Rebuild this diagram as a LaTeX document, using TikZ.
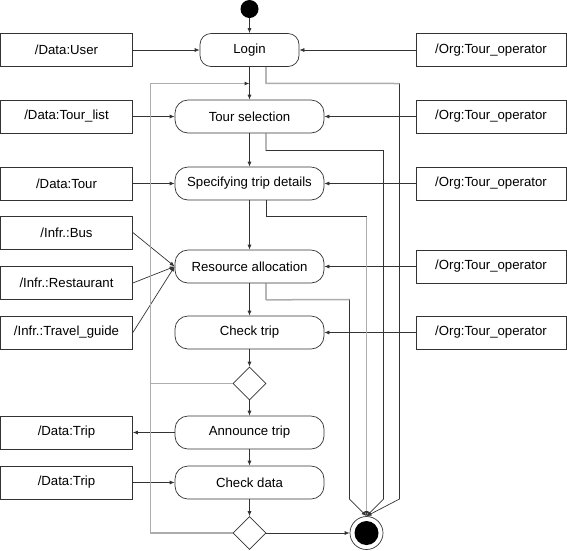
\documentclass[tikz,border=0pt]{standalone}
\usepackage{fontspec}
\setmainfont{Liberation Sans}
\usetikzlibrary{shapes.geometric}
\usetikzlibrary{arrows.meta}
\definecolor{darkline}{rgb}{0.2,0.2,0.2}
\definecolor{loopgray}{rgb}{0.68,0.68,0.68}

\begin{document}
\begin{tikzpicture}[x=1pt, y=-1pt, line width=0.7pt,
  font=\fontsize{13.2}{15}\selectfont,
  objbox/.style={draw=darkline, rectangle, minimum height=33pt, inner sep=0pt},
  leftobj/.style={objbox, minimum width=132pt},
  rightobj/.style={objbox, minimum width=150pt},
  action/.style={draw=darkline, rectangle, rounded corners=13pt, minimum width=149pt, minimum height=33pt, inner sep=0pt},
  choice/.style={draw=darkline, diamond, minimum width=33pt, minimum height=33pt, inner sep=0pt},
  tip/.style={-{Latex[length=5pt,width=4pt,color=darkline]}},
  flow/.style={darkline, tip},
  backline/.style={loopgray, line width=1.5pt}]

\useasboundingbox (0,0) rectangle (567,550);

\begin{scope}
  \node[circle, fill=black, minimum size=18pt, inner sep=0pt] (start) at (249.5,9) {};
  \node[action, minimum width=99pt, rounded corners=11pt] (login) at (249.5,50) {Login};
  \node[action] (toursel) at (249.5,116.5) {Tour selection};
  \node[action] (details) at (249.5,183.5) {Specifying trip details};
  \node[action] (resalloc) at (249.5,266.5) {Resource allocation};
  \node[action] (check) at (249.5,332.5) {Check trip};
  \node[choice] (dec1) at (249.5,383.5) {};
  \node[action] (announce) at (249.5,432.5) {Announce trip};
  \node[action] (checkdata) at (249.5,482.5) {Check data};
  \node[choice] (dec2) at (249.5,533) {};
  \node[circle, draw=darkline, minimum size=33pt, inner sep=0pt] (final) at (366.5,533) {};
  \fill (final) circle (12pt);
\end{scope}

\begin{scope}
  \node[leftobj] (user) at (66.5,50) {/Data:User};
  \node[leftobj] (tourlist) at (66.5,116.5) {/Data:Tour\_list};
  \node[leftobj] (tour) at (66.5,183.5) {/Data:Tour};
  \node[leftobj] (bus) at (66.5,232.5) {/Infr.:Bus};
  \node[leftobj] (restaurant) at (66.5,283) {/Infr.:Restaurant};
  \node[leftobj] (guide) at (66.5,332.5) {/Infr.:Travel\_guide};
  \node[leftobj] (tripout) at (66.5,432.5) {/Data:Trip};
  \node[leftobj] (tripin) at (66.5,482.5) {/Data:Trip};
\end{scope}

\begin{scope}
  \node[rightobj] (org1) at (491,50) {/Org:Tour\_operator};
  \node[rightobj] (org2) at (491,116.5) {/Org:Tour\_operator};
  \node[rightobj] (org3) at (491,183.5) {/Org:Tour\_operator};
  \node[rightobj] (org4) at (491,266.5) {/Org:Tour\_operator};
  \node[rightobj] (org5) at (491,332.5) {/Org:Tour\_operator};
\end{scope}

\draw[flow] (start) -- (login);
\draw[flow] (login) -- (toursel);
\draw[flow] (toursel) -- (details);
\draw[flow] (details) -- (resalloc);
\draw[flow] (resalloc) -- (check);
\draw[flow] (check) -- (dec1);
\draw[flow] (dec1) -- (announce);
\draw[flow] (announce) -- (checkdata);
\draw[flow] (checkdata) -- (dec2);
\draw[flow] (dec2.east) -- (final.west);

\draw[flow] (user.east) -- (login.west);
\draw[flow] (tourlist.east) -- (toursel.west);
\draw[flow] (tour.east) -- (details.west);
\draw[flow] (bus.east) -- (resalloc.west);
\draw[flow] (restaurant.east) -- (resalloc.west);
\draw[flow] (guide.east) -- (resalloc.west);
\draw[flow] (announce.west) -- (tripout.east);
\draw[flow] (tripin.east) -- (checkdata.west);

\draw[flow] (org1.west) -- (login.east);
\draw[flow] (org2.west) -- (toursel.east);
\draw[flow] (org3.west) -- (details.east);
\draw[flow] (org4.west) -- (resalloc.east);
\draw[flow] (org5.west) -- (check.east);

\coordinate (back) at (249.5,83.5);
\draw[backline, tip] (dec1.west) -| (150.5,83.5) -- (back);
\draw[backline] (dec2.west) -| (150.5,383.5);

\draw[flow] ([xshift=16.5pt]login.south) |- (399.5,83.5) -- (399.5,499) -- (final.north);
\draw[backline] ([xshift=16.5pt]login.south) ++(0,16.5) -- (399.5,83.5);
\draw[flow] ([xshift=16.5pt]toursel.south) |- (383.5,150.5) -- (383.5,499) -- (final.north);
\draw[backline, tip] (366.5,216.5) -- (final.north);
\draw[darkline] ([xshift=16.5pt]details.south) |- (366.5,216.5);
\draw[flow] ([xshift=16.5pt]resalloc.south) |- (349.5,299.5) -- (349.5,499) -- (final.north);
\draw[backline] ([xshift=16.5pt]resalloc.south) ++(0,16.5) -- (349.5,299.5);

\end{tikzpicture}
\end{document}
